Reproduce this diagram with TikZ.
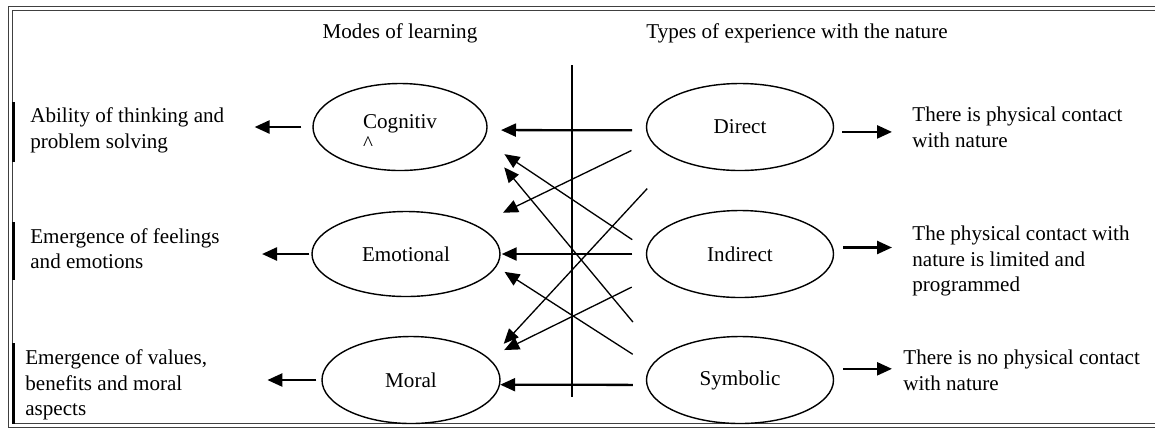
\documentclass[tikz,border=0pt]{standalone}
\usepackage{fontspec}
\setmainfont{Liberation Serif}
\usepackage{tikz}
\usetikzlibrary{shapes.geometric, arrows.meta, positioning}

\tikzset{
    oval/.style={draw, ellipse, line width=0.8pt, inner sep=0pt, align=left,
        minimum width=3.74cm, minimum height=1.74cm},
    note/.style={anchor=west, align=left, inner sep=0pt},
    bigarrow/.style={line width=1.4pt, -{Triangle[length=3mm, width=2.6mm]}},
    smallarrow/.style={line width=0.75pt, -{Triangle[length=3mm, width=2.6mm]}},
}

\begin{document}
\begin{tikzpicture}[font=\fontsize{12}{14.6}\selectfont]
    \useasboundingbox (0,0) rectangle (23.1,-8.56);

    % frame, open on the right
    \draw[black!75, line width=0.55pt, double distance=1.9pt]
        (23.6,-0.175) -- (0.21,-0.175) -- (0.21,-8.51) -- (23.6,-8.51);
    \foreach \a/\b in {2.04/3.24, 4.44/5.60, 6.86/8.48}
        \draw[line width=1.6pt] (0.27,-\a) -- (0.27,-\b);

    \node (modes) at (8.00,-0.66) {Modes of learning};
    \node[anchor=west, inner sep=0pt] (types) at (12.92,-0.66) {Types of experience with the nature};

    % divider
    \draw[line width=0.6pt] (11.44,-1.30) -- (11.44,-7.94);

    % modes of learning
    \node[oval, minimum width=3.48cm] (cog) at (8.00,-2.54) {\rule{0pt}{14pt}Cognitiv\\[-2pt]\^{}};
    \node[oval, minimum width=3.76cm, minimum height=1.70cm] (emo) at (8.12,-5.08) {Emotional};
    \node[oval, minimum width=3.56cm] (mor) at (8.22,-7.60) {Moral};

    % types of experience
    \node[oval] (dir) at (14.80,-2.54) {Direct};
    \node[oval] (ind) at (14.80,-5.08) {Indirect};
    \node[oval] (sym) at (14.80,-7.60) {Symbolic};

    \node[note] (think) at (0.60,-2.61) {Ability of thinking and\\problem solving};
    \node[note] (feel) at (0.60,-4.97) {Emergence of feelings\\and emotions};
    \node[note] (values) at (0.50,-7.70) {Emergence of values,\\benefits and moral\\aspects};
    \node[note] (contact) at (18.24,-2.55) {There is physical contact\\with nature};
    \node[note] (limited) at (18.24,-5.22) {The physical contact with\\nature is limited and\\programmed};
    \node[note] (nocontact) at (18.06,-7.41) {There is no physical contact\\with nature};

    % outcomes
    \draw[bigarrow, shorten <=0.22cm, shorten >=0.6cm] (cog.west) -- (cog.west -| think.east);
    \draw[bigarrow, shorten <=0.04cm, shorten >=0.84cm] (emo.west) -- (emo.west -| feel.east);
    \draw[bigarrow, shorten <=0.1cm, shorten >=1.2cm] (mor.west) -- (mor.west -| values.east);
    \draw[bigarrow, shorten <=0.17cm, shorten >=0.4cm] (dir.-3) -- (dir.-3 -| contact.west);
    \draw[bigarrow, shorten <=0.2cm, shorten >=0.4cm] (ind.4.3) -- (ind.4.3 -| limited.west);
    \draw[bigarrow, shorten <=0.24cm, shorten >=0.22cm] (sym.7.6) -- (sym.7.6 -| nocontact.west);

    % experience -> mode
    \draw[bigarrow, line width=1.3pt, shorten <=0.28cm, shorten >=0.27cm] (dir.182.5) -- (cog.-2.6);
    \draw[bigarrow, line width=1.3pt, shorten <=0.27cm, shorten >=0.02cm] (ind) -- (emo);
    \draw[bigarrow, line width=1.3pt, shorten <=0.27cm] (sym.183.1) -- (mor.-3.2);
    \draw[smallarrow, shorten <=0.43cm, shorten >=0.58cm] (dir.189.6) -- (emo.22.3);
    \draw[smallarrow, shorten <=0.81cm, shorten >=0.41cm] (dir.206.2) -- (mor.15.9);
    \draw[smallarrow, shorten <=0.34cm, shorten >=0.5cm] (ind.177) -- (cog.-9.9);
    \draw[smallarrow, shorten <=0.88cm, shorten >=0.67cm] (sym.163.5) -- (cog.-10.6);
    \draw[smallarrow, shorten <=0.56cm, shorten >=0.35cm] (ind.194.3) -- (mor.16.4);
    \draw[smallarrow, shorten <=0.43cm, shorten >=0.19cm] (sym.171.4) -- (emo.-8.9);
\end{tikzpicture}
\end{document}
